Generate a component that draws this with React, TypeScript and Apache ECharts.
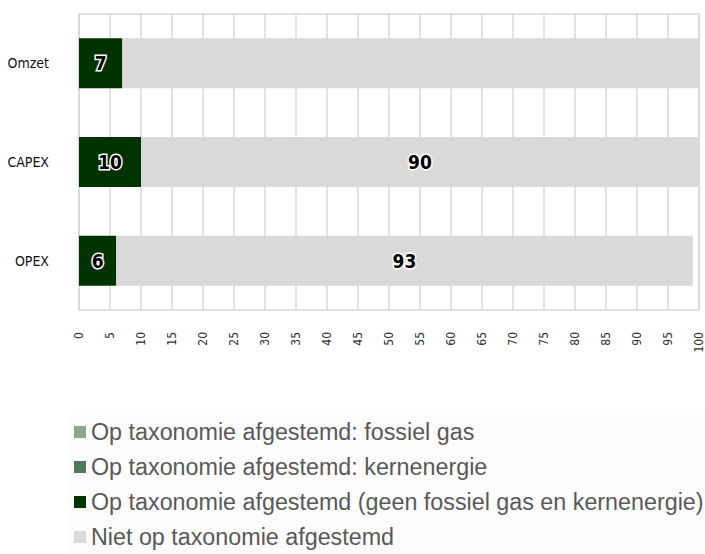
import React, { useEffect, useRef } from "react";
import * as echarts from "echarts";

const categories = ["Omzet", "CAPEX", "OPEX"];
const fossilGas = [0, 0, 0];
const kernenergie = [0, 0, 0];
const alignedOther = [7, 10, 6];
const notAligned = [93, 90, 93];
const notAlignedLabelShown = [false, true, true];
const seriesNames = [
  "Op taxonomie afgestemd: fossiel gas",
  "Op taxonomie afgestemd: kernenergie",
  "Op taxonomie afgestemd (geen fossiel gas en kernenergie)",
  "Niet op taxonomie afgestemd",
];
const colors = ["#86a88b", "#4f7a57", "#003300", "#d9d9d9"];

export default function App() {
  const ref = useRef<HTMLDivElement>(null);
  useEffect(() => {
    if (!ref.current) return;
    const chart = echarts.init(ref.current, undefined, { renderer: "svg" });
    const labelStyle = {
      show: true,
      position: "inside",
      color: "#000",
      fontSize: 19,
      fontWeight: "bold",
      fontFamily: "DejaVu Sans Condensed, DejaVu Sans, sans-serif",
      textBorderColor: "#fff",
      textBorderWidth: 3,
    };
    const seriesData = [fossilGas, kernenergie, alignedOther, notAligned];
    chart.setOption({
      animation: false,
      graphic: [
        {
          type: "rect",
          z: -10,
          shape: { x: 68, y: 415, width: 637, height: 139 },
          style: { fill: "#fcfcfc" },
          silent: true,
        },
      ],
      legend: {
        orient: "vertical",
        left: 74,
        top: 420,
        height: 300,
        padding: 0,
        icon: "rect",
        itemWidth: 12,
        itemHeight: 12,
        itemGap: 11,
        selectedMode: false,
        textStyle: {
          fontSize: 23.3,
          lineHeight: 24,
          color: "#595959",
          fontFamily: "Liberation Sans, Arial, sans-serif",
        },
        data: seriesNames,
      },
      grid: {
        left: 79,
        right: 6,
        top: 14,
        bottom: 244,
        show: true,
        borderColor: "#d9d9d9",
        borderWidth: 1.5,
      },
      xAxis: {
        type: "value",
        min: 0,
        max: 100,
        interval: 5,
        axisLine: { show: false },
        axisTick: { show: false },
        splitLine: { show: true, lineStyle: { color: "#d9d9d9", width: 1.5 } },
        axisLabel: {
          rotate: 90,
          margin: 22,
          fontSize: 12,
          color: "#333",
          fontFamily: "DejaVu Sans Condensed, DejaVu Sans, sans-serif",
        },
      },
      yAxis: {
        type: "category",
        inverse: true,
        data: categories,
        axisLine: { show: true, lineStyle: { color: "#d9d9d9", width: 1.5 } },
        axisTick: { show: false },
        axisLabel: {
          margin: 30,
          fontSize: 14,
          color: "#111",
          fontFamily: "DejaVu Sans Condensed, DejaVu Sans, sans-serif",
        },
      },
      series: seriesNames.map((name, si) => ({
        name,
        type: "bar",
        stack: "total",
        barWidth: 50,
        itemStyle: { color: colors[si] },
        data: seriesData[si].map((v, i) => ({
          value: v,
          label:
            si === 3
              ? { ...labelStyle, show: notAlignedLabelShown[i] }
              : { ...labelStyle, show: si === 2 && v > 0 },
        })),
      })),
    });
    return () => chart.dispose();
  }, []);
  return (
    <div
      ref={ref}
      style={{ position: "absolute", left: 0, top: 0, width: 705, height: 554 }}
    />
  );
}
